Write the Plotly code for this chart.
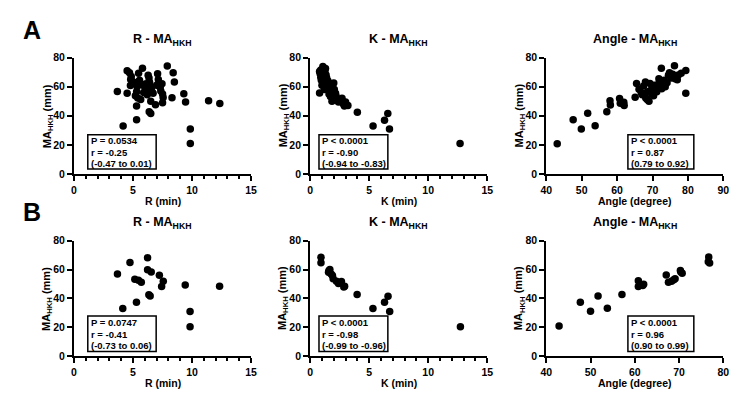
import plotly.graph_objects as go

# page body adds an 8px offset, so the figure is sized/positioned to compensate
OFF = 8
W, H = 750 - OFF, 397 - OFF

# ---------------- Data ----------------
# Panel A: R vs MA_HKH
A_R = [3.67, 4.16, 4.5, 4.5, 4.7, 4.85, 4.8, 4.95, 4.78, 5.28, 5.35, 5.3, 5.2, 5.4, 5.3, 5.3,
       5.47, 5.8, 5.55, 5.75, 5.65, 5.95, 6.05, 6.1, 6.23, 6.28, 6.35, 6.4, 6.45, 6.55, 6.6,
       6.7, 6.37, 6.5, 6.5, 6.9, 7.0, 7.08, 7.14, 7.2, 7.3, 7.35, 7.45, 7.5, 7.55, 7.5, 6.2,
       5.9, 7.9, 8.3, 8.4, 8.5, 9.3, 9.45, 9.85, 9.85, 11.4, 12.35]
A_R_MA = [56.7, 33.0, 55.5, 71.0, 69.5, 67.0, 65.0, 63.5, 60.8, 62.9, 60.0, 56.5, 53.8, 52.2, 46.7, 37.3,
          69.3, 72.7, 64.5, 61.5, 51.1, 60.4, 59.0, 62.0, 57.8, 67.8, 66.0, 63.0, 60.5, 58.5, 56.5,
          55.5, 42.7, 41.6, 50.0, 47.6, 61.0, 68.9, 65.0, 62.5, 59.5, 57.0, 62.0, 55.0, 52.5, 48.9, 54.5,
          56.0, 74.2, 52.4, 69.6, 63.2, 55.2, 49.5, 30.9, 20.9, 50.4, 48.4]

# Panel A: K vs MA_HKH
A_K = [0.8, 0.8, 0.85, 0.9, 0.95, 1.0, 1.08, 1.1, 1.15, 1.2, 1.3, 1.3, 1.35, 1.4, 1.45, 1.5,
       1.55, 1.6, 1.65, 1.7, 1.72, 1.75, 1.8, 1.85, 1.9, 1.95, 2.0, 2.05, 2.1, 2.15, 2.2, 2.3,
       2.4, 2.5, 2.56, 2.7, 2.8, 2.9, 3.0, 3.2, 4.0, 5.33, 6.3, 6.58, 6.72, 12.7,
       0.9, 1.0, 1.25, 1.4, 1.6, 1.2]
A_K_MA = [55.6, 70.5, 68.9, 66.5, 64.4, 69.5, 73.9, 67.0, 65.0, 62.5, 72.5, 63.3, 68.0, 61.0, 59.5, 64.0,
          60.0, 57.8, 62.0, 55.5, 53.3, 58.5, 56.5, 50.0, 60.5, 54.5, 62.5, 58.0, 52.2, 55.5, 53.5, 51.5,
          49.5, 51.0, 50.0, 52.0, 48.2, 46.7, 49.5, 47.0, 42.4, 33.0, 36.9, 41.5, 30.9, 20.9,
          71.5, 61.0, 70.5, 66.0, 55.0, 58.0]

# Panel A: Angle vs MA_HKH
A_ANG = [43.1, 47.6, 49.9, 51.7, 53.8, 57.1, 58.0, 58.1, 60.7, 60.9, 61.9, 62.0, 65.1, 65.5, 66.2,
         66.8, 67.1, 67.5, 68.0, 68.1, 68.5, 68.6, 69.0, 69.3, 69.5, 69.8, 70.0, 70.3, 70.6, 70.8,
         71.2, 71.8, 71.8, 72.5, 72.6, 73.0, 73.3, 73.6, 74.1, 74.5, 74.8, 75.3, 75.7, 76.2, 76.4,
         76.6, 77.0, 77.3, 78.1, 79.4, 79.4]
A_ANG_MA = [20.7, 37.3, 30.9, 41.8, 33.1, 42.7, 50.4, 47.4, 51.8, 48.6, 49.3, 47.0, 52.8, 62.2, 58.2,
            56.0, 54.4, 60.5, 63.3, 52.2, 51.1, 56.5, 50.0, 62.2, 57.5, 55.0, 58.2, 53.8, 61.0, 59.5,
            56.5, 65.5, 62.2, 72.7, 58.5, 61.5, 64.5, 60.0, 62.7, 67.8, 69.5, 66.0, 68.5, 74.4, 65.5,
            67.5, 64.8, 68.0, 69.3, 71.1, 55.5]

# Panel B: R vs MA_HKH
B_R = [6.23, 4.74, 6.23, 6.54, 3.68, 7.23, 5.15, 5.46, 7.56, 5.70, 9.42, 12.33, 7.42, 6.34, 6.45,
       5.29, 4.13, 9.83, 9.83]
B_R_MA = [68.2, 65.0, 59.9, 58.3, 57.0, 56.1, 53.4, 52.7, 52.0, 51.3, 49.3, 48.4, 48.2, 42.6, 41.7,
          37.4, 33.0, 30.9, 20.4]

# Panel B: K vs MA_HKH
B_K = [0.92, 0.92, 1.67, 1.59, 1.56, 1.78, 1.95, 1.89, 2.23, 2.65, 2.40, 2.92, 2.85, 3.98, 6.60,
       6.30, 5.32, 6.74, 12.73]
B_K_MA = [68.6, 64.8, 60.1, 59.2, 58.1, 57.0, 53.6, 56.0, 52.0, 51.8, 50.4, 48.4, 48.0, 42.8, 41.5,
          37.4, 33.0, 30.9, 20.4]

# Panel B: Angle vs MA_HKH
B_ANG = [76.7, 76.6, 76.9, 70.3, 70.4, 70.7, 67.1, 69.1, 68.8, 60.8, 68.3, 67.6, 62.0, 61.8, 60.8,
         57.1, 51.7, 47.7, 53.8, 50.0, 42.9]
B_ANG_MA = [68.8, 65.5, 64.6, 59.4, 58.3, 57.4, 56.3, 53.6, 52.9, 52.2, 52.0, 51.3, 49.8, 48.9, 48.2,
            42.8, 41.7, 37.4, 33.2, 31.2, 20.8]

TITLES = ["R - MA<sub>HKH</sub>", "K - MA<sub>HKH</sub>", "Angle - MA<sub>HKH</sub>"]
XTITLES = ["R (min)", "K (min)", "Angle (degree)"]
STATS_A = [["P = 0.0534", "r = -0.25", "(-0.47 to 0.01)"],
           ["P < 0.0001", "r = -0.90", "(-0.94 to -0.83)"],
           ["P < 0.0001", "r = 0.87", "(0.79 to 0.92)"]]
STATS_B = [["P = 0.0747", "r = -0.41", "(-0.73 to 0.06)"],
           ["P < 0.0001", "r = -0.98", "(-0.99 to -0.96)"],
           ["P < 0.0001", "r = 0.96", "(0.90 to 0.99)"]]

# ---------------- Layout helpers (screen px -> paper) ----------------
def px_x(p):
    return (p - OFF) / W

def px_y(p):
    return 1 - (p - OFF) / H

FONT = "Liberation Sans, Arial, sans-serif"
col_px = [(69, 249), (309, 489), (549, 729)]
row_px = [(53, 173), (242, 361)]
# stats boxes (left, right) per column and (top, bottom) per row, screen px
box_x = [(83, 152.5), (318, 388), (632, 699)]
box_y = [(132.7, 168), (319.5, 356.3)]

panels = [
    (0, 0, A_R, A_R_MA, [0, 15], 5, True),
    (0, 1, A_K, A_K_MA, [0, 15], 5, True),
    (0, 2, A_ANG, A_ANG_MA, [40, 90], 10, False),
    (1, 0, B_R, B_R_MA, [0, 15], 5, True),
    (1, 1, B_K, B_K_MA, [0, 15], 5, True),
    (1, 2, B_ANG, B_ANG_MA, [40, 80], 10, False),
]

fig = go.Figure()
layout = {}
annotations = []
shapes = []

for i, (r, c, xs, ys, xr, dt, minor) in enumerate(panels):
    n = i + 1
    xa = "x" if n == 1 else f"x{n}"
    ya = "y" if n == 1 else f"y{n}"
    xkey = "xaxis" if n == 1 else f"xaxis{n}"
    ykey = "yaxis" if n == 1 else f"yaxis{n}"
    x0, x1 = col_px[c]
    y0, y1 = row_px[r]
    fig.add_trace(go.Scatter(x=xs, y=ys, mode="markers", xaxis=xa, yaxis=ya,
                             marker=dict(color="black", size=7.5, line=dict(width=0)),
                             cliponaxis=False, showlegend=False))
    xdict = dict(domain=[px_x(x0), px_x(x1)], range=xr, anchor=ya, tick0=xr[0], dtick=dt,
                 showline=True, linecolor="black", linewidth=2, ticks="outside", ticklen=5,
                 tickwidth=2, tickcolor="black", showgrid=False, zeroline=False,
                 tickfont=dict(family=FONT, size=10.5, color="black", weight="bold"))
    if minor:
        xdict["minor"] = dict(dtick=1, tick0=0, ticks="outside", ticklen=3, tickwidth=1.5,
                              tickcolor="black", showgrid=False)
    layout[xkey] = xdict
    layout[ykey] = dict(domain=[px_y(y1), px_y(y0)], range=[0, 80], anchor=xa, dtick=20,
                        showline=True, linecolor="black", linewidth=2, ticks="outside",
                        ticklen=5, tickwidth=2, tickcolor="black", showgrid=False,
                        zeroline=False,
                        tickfont=dict(family=FONT, size=10.5, color="black", weight="bold"))
    xc = (x0 + x1) / 2
    # title
    annotations.append(dict(text=f"<b>{TITLES[c]}</b>", x=px_x(xc), y=px_y(y0 - 18),
                            xref="paper", yref="paper", showarrow=False,
                            font=dict(family=FONT, size=12.5, color="black"),
                            xanchor="center", yanchor="middle"))
    # x title
    annotations.append(dict(text=f"<b>{XTITLES[c]}</b>", x=px_x(xc), y=px_y(y1 + 28),
                            xref="paper", yref="paper", showarrow=False,
                            font=dict(family=FONT, size=10.5, color="black"),
                            xanchor="center", yanchor="middle"))
    # y title
    annotations.append(dict(text="<b>MA<sub>HKH</sub> (mm)</b>", x=px_x(x0 - 27),
                            y=px_y((y0 + y1) / 2), xref="paper", yref="paper",
                            showarrow=False, textangle=-90,
                            font=dict(family=FONT, size=11, color="black"),
                            xanchor="center", yanchor="middle"))
    # stats box: frame + three lines
    bl, br = box_x[c]
    bt, bb = box_y[r]
    shapes.append(dict(type="rect", xref="paper", yref="paper",
                       x0=px_x(bl), x1=px_x(br), y0=px_y(bb), y1=px_y(bt),
                       line=dict(color="black", width=1.5), fillcolor="white", layer="above"))
    lines = STATS_A[c] if r == 0 else STATS_B[c]
    step = (bb - bt) / 3
    for k, txt in enumerate(lines):
        annotations.append(dict(text=f"<b>{txt}</b>", x=px_x(bl + 1.5), y=px_y(bt + step * (k + 0.5) + 0.3),
                                xref="paper", yref="paper", showarrow=False, align="left",
                                xanchor="left", yanchor="middle",
                                font=dict(family=FONT, size=9.5, color="black")))

annotations.append(dict(text="<b>A</b>", x=px_x(26), y=px_y(25), xref="paper", yref="paper",
                        showarrow=False, font=dict(family=FONT, size=25, color="black"),
                        xanchor="center", yanchor="middle"))
annotations.append(dict(text="<b>B</b>", x=px_x(26), y=px_y(212), xref="paper", yref="paper",
                        showarrow=False, font=dict(family=FONT, size=25, color="black"),
                        xanchor="center", yanchor="middle"))

fig.update_layout(width=W, height=H, margin=dict(l=0, r=0, t=0, b=0),
                  paper_bgcolor="white", plot_bgcolor="white",
                  annotations=annotations, shapes=shapes, **layout)

fig.write_html("out.html")
